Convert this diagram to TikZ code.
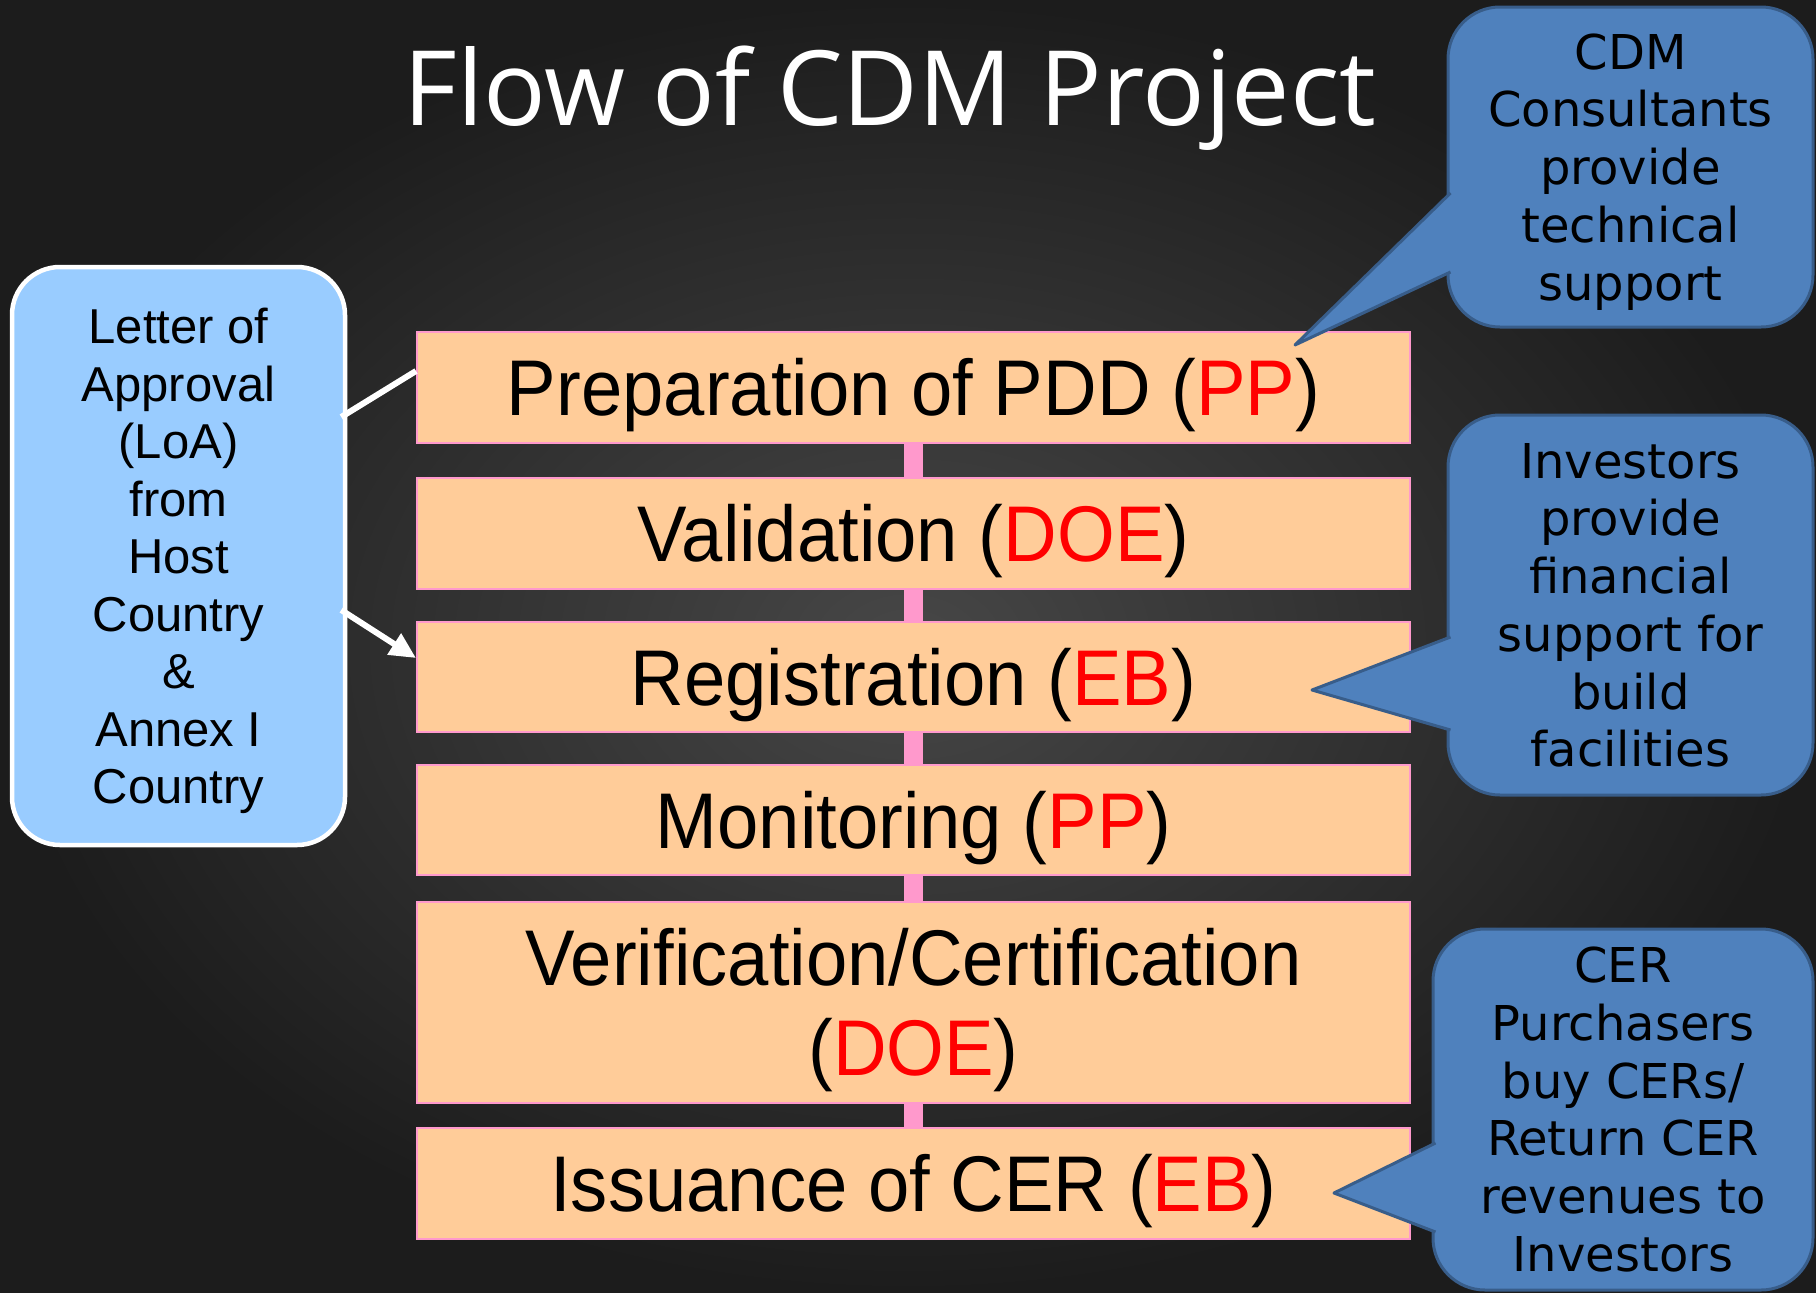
\documentclass[tikz,border=0pt]{standalone}
\usepackage{fontspec}
\setmainfont{Liberation Sans}
\newfontfamily\titlefont{Open Sans}
\newfontfamily\boxfont[FakeStretch=0.94]{Liberation Sans}
\newfontfamily\calloutfont{DejaVu Sans}
\usetikzlibrary{arrows.meta}
\definecolor{peach}{HTML}{FFCC99}
\definecolor{pinkline}{HTML}{FF99CC}
\definecolor{loablue}{HTML}{99CCFF}
\definecolor{cofill}{HTML}{4F81BD}
\definecolor{coline}{HTML}{385D8A}
\definecolor{bgin}{HTML}{474747}
\definecolor{bgout}{HTML}{1C1C1C}
\definecolor{redtxt}{HTML}{FF0000}
\begin{document}
\begin{tikzpicture}[x=1pt,y=-1pt,
  stepbox/.style={draw=pinkline, line width=2pt, fill=peach, minimum width=993pt,
    inner sep=0pt, align=center, text=black, font=\boxfont\fontsize{79}{90}\selectfont,
    text height=56.6pt, text depth=0pt},
  link/.style={draw=pinkline, line width=19pt},
  loabox/.style={draw=white, line width=4.5pt, fill=loablue, rounded corners=48pt,
    minimum width=333pt, minimum height=578pt, inner sep=0pt, align=center, text=black,
    font=\fontsize{49}{57.5}\selectfont, text height=495pt, text depth=0pt},
  wline/.style={draw=white, line width=6pt},
  cobox/.style={draw=coline, line width=3pt, fill=cofill, rounded corners=52pt,
    inner sep=0pt, align=center, text=black, font=\calloutfont\fontsize{48}{57.7}\selectfont,
    text depth=0pt},
  copoint/.style={draw=coline, line width=3pt, fill=cofill, line join=round}]
\useasboundingbox (0,0) rectangle (1816,1293);
\shade[inner color=bgin, outer color=bgout] (0,0) rectangle (1816,1293);

% title
\node[anchor=base, text=white, font=\titlefont\fontsize{104}{110}\selectfont, inner sep=0pt]
  (title) at (890,125) {Flow of CDM Project};

% step boxes
\node[stepbox, minimum height=111pt] (b1) at (913.5,387.5) {Preparation of PDD (\textcolor{redtxt}{PP})};
\node[stepbox, minimum height=111pt] (b2) at (913.5,533.5) {Validation (\textcolor{redtxt}{DOE})};
\node[stepbox, minimum height=110pt] (b3) at (913.5,677) {Registration (\textcolor{redtxt}{EB})};
\node[stepbox, minimum height=110pt] (b4) at (913.5,820) {Monitoring (\textcolor{redtxt}{PP})};
\node[stepbox, minimum height=201pt, text height=146.6pt] (b5) at (913.5,1002.5) {Verification/Certification\\(\textcolor{redtxt}{DOE})};
\node[stepbox, minimum height=111pt] (b6) at (913.5,1183.5) {Issuance of CER (\textcolor{redtxt}{EB})};

% pink links
\draw[link] ([yshift=1pt]b1.south) -- ([yshift=-1pt]b2.north);
\draw[link] ([yshift=1pt]b2.south) -- ([yshift=-1pt]b3.north);
\draw[link] ([yshift=1pt]b3.south) -- ([yshift=-1pt]b4.north);
\draw[link] ([yshift=1pt]b4.south) -- ([yshift=-1pt]b5.north);
\draw[link] ([yshift=1pt]b5.south) -- ([yshift=-1pt]b6.north);

% left box
\node[loabox] (loa) at (178.5,556) {Letter of\\Approval\\(LoA)\\from\\Host\\Country\\\&\\Annex I\\Country};

% white connectors
\draw[wline] ([yshift=139pt,xshift=-6pt]loa.east) -- ([yshift=16.5pt]b1.west);
\draw[wline, -{Triangle[length=26pt,width=24pt]}] ([yshift=-54pt,xshift=-6pt]loa.east) -- ([yshift=19pt]b3.west);

% callout 1
\node[cobox, minimum width=365pt, minimum height=320pt, text height=266pt] (c1) at (1630.5,167)
  {CDM\\Consultants\\provide\\technical\\support};
\coordinate (c1a) at (1450.5,193);
\coordinate (c1t) at (1295,345);
\coordinate (c1b) at (1450.5,272);
\path[copoint] (c1a) -- (c1t) -- (c1b);

% callout 2
\node[cobox, minimum width=365pt, minimum height=380pt, text height=323.5pt] (c2) at (1630.5,605)
  {Investors\\provide\\financial\\support for\\build\\facilities};
\coordinate (c2a) at (1450.5,637);
\coordinate (c2t) at (1312,690);
\coordinate (c2b) at (1450.5,730);
\path[copoint] (c2a) -- (c2t) -- (c2b);

% callout 3
\node[cobox, minimum width=380pt, minimum height=361pt, text height=323.5pt] (c3) at (1623,1109.5)
  {CER\\Purchasers\\buy CERs/\\Return CER\\revenues to\\Investors};
\coordinate (c3a) at (1435.5,1143);
\coordinate (c3t) at (1334,1193);
\coordinate (c3b) at (1435.5,1232);
\path[copoint] (c3a) -- (c3t) -- (c3b);
\end{tikzpicture}
\end{document}
